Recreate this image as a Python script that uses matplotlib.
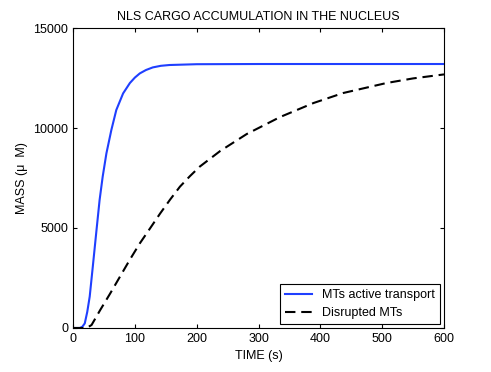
import numpy as np
import matplotlib.pyplot as plt

plt.rcParams['font.family'] = ['Liberation Sans', 'DejaVu Sans']

# values
t_active = [0, 11, 15, 19, 23, 27, 32, 38, 43, 48, 54, 62, 70, 81, 92, 100, 108, 118, 129, 142, 156, 200, 300, 400, 500, 600]
m_active = [0, 0, 60, 230, 800, 1570, 3070, 4900, 6400, 7570, 8730, 9900, 10900, 11730, 12250, 12520, 12730, 12900, 13030, 13110, 13150, 13190, 13200, 13200, 13200, 13200]

t_disrupt = [0, 22, 30, 44, 60, 76, 92, 108, 125, 141, 157, 173, 189, 205, 238, 281, 335, 389, 437, 507, 550, 600]
m_disrupt = [0, 0, 150, 900, 1720, 2570, 3420, 4230, 5000, 5730, 6420, 7070, 7590, 8070, 8850, 9700, 10550, 11250, 11750, 12250, 12480, 12680]

fig = plt.figure(figsize=(4.91, 3.72), dpi=100)
ax = fig.add_axes([0.1487, 0.1183, 0.7556, 0.8064])

ax.plot(t_active, m_active, color='#1f3fff', lw=1.5, label='MTs active transport')
ax.plot(t_disrupt, m_disrupt, color='black', lw=1.5, ls=(0, (5, 2.8)), label='Disrupted MTs')

ax.set_xlim(0, 600)
ax.set_ylim(0, 15000)
ax.set_xticks([0, 100, 200, 300, 400, 500, 600])
ax.set_yticks([0, 5000, 10000, 15000])
ax.tick_params(direction='in', top=True, right=True, labelsize=9, length=3)
ax.set_xlabel('TIME (s)', fontsize=9)
ax.set_ylabel('MASS (\u03bc  M)', fontsize=9)
ax.set_title('NLS CARGO ACCUMULATION IN THE NUCLEUS', fontsize=9)

leg = ax.legend(loc='lower right', fontsize=9, fancybox=False, framealpha=1,
                edgecolor='black', handlelength=2.2, borderaxespad=0.3)
leg.get_frame().set_linewidth(0.8)

fig.savefig('out.png', dpi=100)
